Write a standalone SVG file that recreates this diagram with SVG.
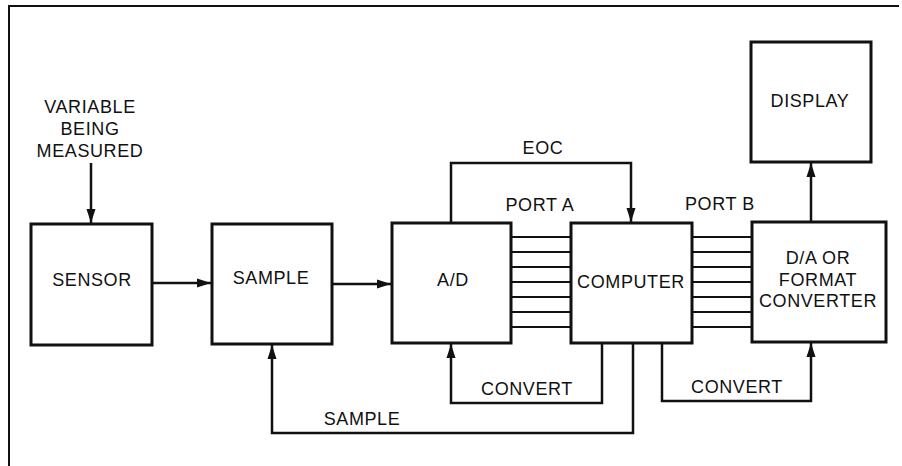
<svg xmlns="http://www.w3.org/2000/svg" width="902" height="466" viewBox="0 0 902 466">
<style>
  .box{fill:#fff;stroke:#111;stroke-width:3}
  .ln{fill:none;stroke:#111;stroke-width:2.5}
  .bus{fill:none;stroke:#111;stroke-width:2.2}
  .t{font-family:"Liberation Sans",Arial,sans-serif;font-size:18px;letter-spacing:0.6px;fill:#111;text-anchor:middle}
</style>
<defs>
  <marker id="arr" markerUnits="userSpaceOnUse" markerWidth="14" markerHeight="10" refX="14" refY="5" orient="auto">
    <path d="M0,0.5 L14,5 L0,9.5 z" fill="#111"/>
  </marker>
</defs>
<rect width="902" height="466" fill="#fff"/>
<path d="M9,466 V6 H899" fill="none" stroke="#111" stroke-width="2"/>

<g id="connectors">
  <path class="ln" d="M91,163 V223" marker-end="url(#arr)"/>
  <path class="ln" d="M152,283 H211" marker-end="url(#arr)"/>
  <path class="ln" d="M332,284 H391" marker-end="url(#arr)"/>
  <path class="ln" d="M451,223 V163 H631 V222" marker-end="url(#arr)"/>
  <path class="bus" d="M511,237 H571 M511,252 H571 M511,267 H571 M511,282 H571 M511,297 H571 M511,312 H571 M511,327 H571"/>
  <path class="bus" d="M692,237 H752 M692,252 H752 M692,267 H752 M692,282 H752 M692,297 H752 M692,312 H752 M692,327 H752"/>
  <path class="ln" d="M811,222 V163" marker-end="url(#arr)"/>
  <path class="ln" d="M602,343 V403 H451 V344" marker-end="url(#arr)"/>
  <path class="ln" d="M662,343 V401 H811 V343" marker-end="url(#arr)"/>
  <path class="ln" d="M633,343 V433 H272 V345" marker-end="url(#arr)"/>
  <text class="t" x="543" y="154">EOC</text>
  <text class="t" x="540" y="211">PORT A</text>
  <text class="t" x="720" y="210">PORT B</text>
  <text class="t" x="527" y="395">CONVERT</text>
  <text class="t" x="737" y="393">CONVERT</text>
  <text class="t" x="362" y="425">SAMPLE</text>
</g>

<g id="variable">
  <text class="t" x="90" y="113">VARIABLE</text>
  <text class="t" x="90" y="135">BEING</text>
  <text class="t" x="90" y="157">MEASURED</text>
</g>

<g id="sensor">
  <rect class="box" x="31" y="224" width="121" height="121"/>
  <text class="t" x="92" y="286">SENSOR</text>
</g>

<g id="sample">
  <rect class="box" x="212" y="224" width="120" height="120"/>
  <text class="t" x="271" y="284">SAMPLE</text>
</g>

<g id="ad">
  <rect class="box" x="392" y="223" width="119" height="120"/>
  <text class="t" x="453" y="286">A/D</text>
</g>

<g id="computer">
  <rect class="box" x="571" y="223" width="121" height="120"/>
  <text class="t" x="631" y="288">COMPUTER</text>
</g>

<g id="converter">
  <rect class="box" x="752" y="222" width="134" height="120"/>
  <text class="t" x="818" y="264">D/A OR</text>
  <text class="t" x="818" y="286">FORMAT</text>
  <text class="t" x="818" y="307">CONVERTER</text>
</g>

<g id="display">
  <rect class="box" x="751" y="42" width="120" height="120"/>
  <text class="t" x="810" y="107">DISPLAY</text>
</g>
</svg>
